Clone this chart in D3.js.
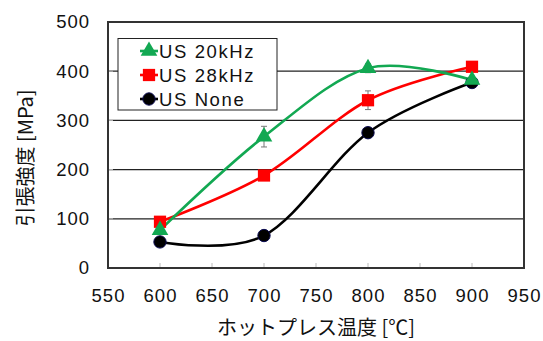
<!DOCTYPE html>
<html>
<head>
<meta charset="utf-8">
<title>引張強度</title>
<script src="https://cdn.jsdelivr.net/npm/d3@7"></script>
<style>
	body, html { margin: 0; padding: 0; background: #fff; }
	svg text { font-family: "Liberation Sans", Arial, sans-serif; fill: #111; }
	.tick-label { font-size: 18.5px; letter-spacing: 1px; }
	.legend text { font-size: 18.5px; letter-spacing: 1.6px; }
	.title { font-family: "Noto Sans CJK JP", sans-serif; font-size: 20px; }
</style>
</head>
<body>
<svg id="chart" width="543" height="341"></svg>
<script>
	// temperatures (x) and tensile strength per series
	var temps = [600, 700, 800, 900];
	var us20 = [77, 267, 406, 382];
	var us28 = [94, 188, 341, 409];
	var usNone = [53, 66, 275, 377];
	// error bar half widths
	var err20 = [0, 21, 9, 0];
	var err28 = [0, 0, 19, 0];
	var errNone = [0, 0, 0, 0];

	var xTicks = [550, 600, 650, 700, 750, 800, 850, 900, 950];
	var yTicks = [0, 100, 200, 300, 400, 500];
	var seriesNames = ["US 20kHz", "US 28kHz", "US None"];

	var pLeft = 108, pRight = 524, pTop = 22, pBottom = 268;

	var svg = d3.select("#chart");
	var x = d3.scaleLinear().domain([550, 950]).range([pLeft, pRight]);
	var y = d3.scaleLinear().domain([0, 500]).range([pBottom, pTop]);

	// gridlines
	svg.append("g").selectAll("line")
		.data([100, 200, 300, 400])
		.enter().append("line")
		.attr("x1", pLeft).attr("x2", pRight)
		.attr("y1", function(d) { return y(d); })
		.attr("y2", function(d) { return y(d); })
		.attr("stroke", "#222")
		.attr("stroke-width", 1.2);

	// inner tick marks
	svg.append("g").selectAll("line")
		.data(xTicks.slice(1, -1))
		.enter().append("line")
		.attr("x1", function(d) { return x(d); })
		.attr("x2", function(d) { return x(d); })
		.attr("y1", pBottom).attr("y2", pBottom - 5)
		.attr("stroke", "#bbb");
	svg.append("g").selectAll("line")
		.data(yTicks.slice(1, -1))
		.enter().append("line")
		.attr("x1", pLeft).attr("x2", pLeft + 5)
		.attr("y1", function(d) { return y(d); })
		.attr("y2", function(d) { return y(d); })
		.attr("stroke", "#bbb");

	// plot frame
	svg.append("rect")
		.attr("x", pLeft).attr("y", pTop)
		.attr("width", pRight - pLeft).attr("height", pBottom - pTop)
		.attr("fill", "none")
		.attr("stroke", "#333")
		.attr("stroke-width", 2);

	// tick labels
	svg.append("g").selectAll("text")
		.data(yTicks)
		.enter().append("text")
		.attr("class", "tick-label")
		.attr("x", 90)
		.attr("y", function(d) { return y(d); })
		.attr("dy", "0.35em")
		.attr("text-anchor", "end")
		.text(function(d) { return d; });

	svg.append("g").selectAll("text")
		.data(xTicks)
		.enter().append("text")
		.attr("class", "tick-label")
		.attr("x", function(d) { return x(d) + 0.5; })
		.attr("y", 302)
		.attr("text-anchor", "middle")
		.text(function(d) { return d; });

	// axis titles
	svg.append("text")
		.attr("class", "title")
		.attr("x", 316)
		.attr("y", 335)
		.attr("text-anchor", "middle")
		.text("ホットプレス温度 [℃]");

	svg.append("text")
		.attr("class", "title")
		.attr("transform", "translate(33,158) rotate(-90)")
		.attr("text-anchor", "middle")
		.text("引張強度 [MPa]");

	var series = [
		{ name: seriesNames[0], values: us20, err: err20, color: "#12a852", shape: d3.symbolTriangle, size: 120 },
		{ name: seriesNames[1], values: us28, err: err28, color: "#ff0000", shape: d3.symbolSquare, size: 150 },
		{ name: seriesNames[2], values: usNone, err: errNone, color: "#000000", shape: d3.symbolCircle, size: 120 }
	];

	var line = d3.line()
		.x(function(d) { return x(d[0]); })
		.y(function(d) { return y(d[1]); })
		.curve(d3.curveCardinal.tension(0));

	// error bars
	series.forEach(function(s) {
		var g = svg.append("g");
		temps.forEach(function(t, i) {
			if (!s.err[i]) return;
			var v = s.values[i], e = s.err[i];
			g.append("line")
				.attr("x1", x(t)).attr("x2", x(t))
				.attr("y1", y(v + e)).attr("y2", y(v - e))
				.attr("stroke", "#777");
			[v + e, v - e].forEach(function(c) {
				g.append("line")
					.attr("x1", x(t) - 3).attr("x2", x(t) + 3)
					.attr("y1", y(c)).attr("y2", y(c))
					.attr("stroke", "#777");
			});
		});
	});

	// lines and markers, drawn last series first
	series.slice().reverse().forEach(function(s) {
		var pts = temps.map(function(t, i) { return [t, s.values[i]]; });
		svg.append("path")
			.datum(pts)
			.attr("d", line)
			.attr("fill", "none")
			.attr("stroke", s.color)
			.attr("stroke-width", 2.6);
	});
	series.slice().reverse().forEach(function(s) {
		svg.append("g").selectAll("path")
			.data(temps)
			.enter().append("path")
			.attr("transform", function(d, i) { return "translate(" + x(d) + "," + y(s.values[i]) + ")"; })
			.attr("d", d3.symbol().type(s.shape).size(s.size))
			.attr("fill", s.color)
			.attr("stroke", s.color === "#000000" ? "#0a0a50" : "none");
	});

	// legend
	var legend = svg.append("g").attr("class", "legend");
	legend.append("rect")
		.attr("x", 118).attr("y", 38.5)
		.attr("width", 159).attr("height", 71.5)
		.attr("fill", "#fff")
		.attr("stroke", "#222")
		.attr("stroke-width", 1);

	var rows = legend.selectAll("g.row")
		.data(series)
		.enter().append("g")
		.attr("class", "row")
		.attr("transform", function(d, i) { return "translate(0," + (51 + i * 24) + ")"; });
	rows.append("line")
		.attr("x1", 140).attr("x2", 158)
		.attr("y1", 0).attr("y2", 0)
		.attr("stroke", function(d) { return d.color; })
		.attr("stroke-width", 2.6);
	rows.append("path")
		.attr("transform", "translate(149,0)")
		.attr("d", function(d) { return d3.symbol().type(d.shape).size(d.size)(); })
		.attr("fill", function(d) { return d.color; })
		.attr("stroke", function(d) { return d.color === "#000000" ? "#0a0a50" : "none"; });
	rows.append("text")
		.attr("x", 159)
		.attr("y", 0)
		.attr("dy", "0.36em")
		.text(function(d) { return d.name; });
</script>
</body>
</html>
